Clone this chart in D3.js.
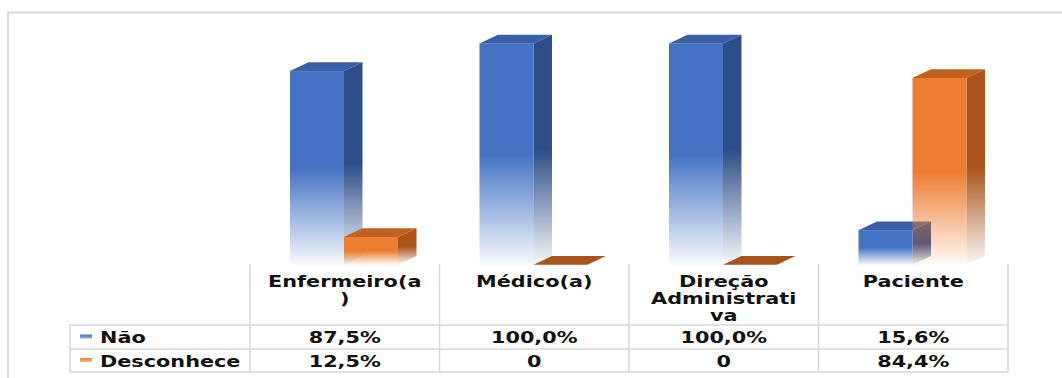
<!DOCTYPE html>
<html>
<head>
<meta charset="utf-8">
<script src="https://cdn.jsdelivr.net/npm/d3@7/dist/d3.min.js"></script>
<style>
  html, body { margin: 0; padding: 0; background: #fff; }
  svg { display: block; }
  text { font-family: "DejaVu Sans", Verdana, sans-serif; font-weight: bold; fill: #111; }
</style>
</head>
<body>
<svg id="chart" width="1062" height="378"></svg>
<script>
// Categories (full names) and their wrapped header lines in the data table
const categories = ["Enfermeiro(a)", "Médico(a)", "Direção Administrativa", "Paciente"];
const categoryLines = [["Enfermeiro(a", ")"], ["Médico(a)"], ["Direção", "Administrati", "va"], ["Paciente"]];

// Series
const seriesNames = ["Não", "Desconhece"];
const naoValues = [87.5, 100.0, 100.0, 15.6];
const desconheceValues = [12.5, 0, 0, 84.4];

// Table cell labels
const naoLabels = ["87,5%", "100,0%", "100,0%", "15,6%"];
const desconheceLabels = ["12,5%", "0", "0", "84,4%"];

const seriesValues = [naoValues, desconheceValues];
const seriesLabels = [naoLabels, desconheceLabels];

const palette = [
  { front: "#4472C4", side: "#2C4D87", top: "#3A5FA6" },
  { front: "#ED7D31", side: "#A9541B", top: "#C0621F" }
];

const svg = d3.select("#chart");
const W = 1062, H = 378;

// Layout
const tableLeft = 250, tableRight = 1008;
const legendLeft = 70;
const baseY = 264.7;
const headerTop = 264, row1Top = 325, row2Top = 349, tableBottom = 372;
const depthX = 18.5, depthY = -8.7;
const textScale = 1.3;

const x = d3.scaleBand().domain(categories).range([tableLeft, tableRight]).padding(0);
const bw = x.bandwidth();
const x1 = d3.scaleBand().domain(seriesNames).range([bw * 0.211, bw * 0.781]).padding(0);
const y = d3.scaleLinear().domain([0, 100]).range([baseY, 43.4]);

// Outer frame
svg.append("rect")
  .attr("x", 8).attr("y", 12.5)
  .attr("width", W + 10).attr("height", H)
  .attr("fill", "none").attr("stroke", "#d9d9d9").attr("stroke-width", 2);

// Gradients: solid on the upper half, fading out toward the floor
const defs = svg.append("defs");
palette.forEach((p, i) => {
  [["front", p.front], ["side", p.side]].forEach(([face, col]) => {
    const g = defs.append("linearGradient")
      .attr("id", `g-${i}-${face}`)
      .attr("x1", 0).attr("y1", 0).attr("x2", 0).attr("y2", 1);
    g.append("stop").attr("offset", "0%").attr("stop-color", col).attr("stop-opacity", 1);
    g.append("stop").attr("offset", "50%").attr("stop-color", col).attr("stop-opacity", 1);
    g.append("stop").attr("offset", "100%").attr("stop-color", col).attr("stop-opacity", 0.04);
  });
  const sw = defs.append("linearGradient")
    .attr("id", `g-${i}-swatch`)
    .attr("x1", 0).attr("y1", 0).attr("x2", 0).attr("y2", 1);
  sw.append("stop").attr("offset", "0%").attr("stop-color", p.front).attr("stop-opacity", 1);
  sw.append("stop").attr("offset", "100%").attr("stop-color", p.front).attr("stop-opacity", 0.55);
});

// 3D bars
const bars = svg.append("g").attr("class", "bars");
categories.forEach((cat, ci) => {
  seriesNames.forEach((s, si) => {
    const v = seriesValues[si][ci];
    const x0 = x(cat) + x1(s);
    const w = x1.bandwidth();
    const yt = y(v);
    const yb = y(0);
    const g = bars.append("g");
    if (yb - yt > 0.5) {
      // side face
      g.append("path")
        .attr("d", `M${x0 + w},${yt} L${x0 + w + depthX},${yt + depthY} L${x0 + w + depthX},${yb + depthY} L${x0 + w},${yb} Z`)
        .attr("fill", `url(#g-${si}-side)`);
      // front face
      g.append("rect")
        .attr("x", x0).attr("y", yt)
        .attr("width", w).attr("height", yb - yt)
        .attr("fill", `url(#g-${si}-front)`);
    }
    // top face
    g.append("path")
      .attr("d", `M${x0},${yt} L${x0 + depthX},${yt + depthY} L${x0 + w + depthX},${yt + depthY} L${x0 + w},${yt} Z`)
      .attr("fill", v > 0 ? palette[si].top : palette[si].side);
  });
});

// Data table grid
const grid = svg.append("g").attr("stroke", "#d9d9d9").attr("stroke-width", 1.6).attr("fill", "none");
const colEdges = categories.map(c => x(c)).concat([tableRight]);
colEdges.forEach(cx => {
  grid.append("line").attr("x1", cx).attr("x2", cx).attr("y1", headerTop).attr("y2", tableBottom);
});
grid.append("line").attr("x1", legendLeft).attr("x2", legendLeft).attr("y1", row1Top).attr("y2", tableBottom);
[row1Top, row2Top, tableBottom].forEach(ry => {
  grid.append("line").attr("x1", legendLeft).attr("x2", tableRight).attr("y1", ry).attr("y2", ry);
});

function label(parent, tx, ty, str, anchor) {
  parent.append("text")
    .attr("transform", `translate(${tx},${ty}) scale(${textScale},1)`)
    .attr("text-anchor", anchor || "middle")
    .attr("font-size", 16)
    .text(str);
}

const texts = svg.append("g");
// Header row
categories.forEach((cat, ci) => {
  const cx = x(cat) + bw / 2;
  categoryLines[ci].forEach((ln, li) => {
    label(texts, cx, 286.5 + li * 17.2, ln);
  });
});

// Series rows
const rowBase = [343, 366.5];
seriesNames.forEach((s, si) => {
  texts.append("rect")
    .attr("x", 80).attr("y", rowBase[si] - 8.5)
    .attr("width", 12).attr("height", 4)
    .attr("fill", `url(#g-${si}-swatch)`);
  label(texts, 100, rowBase[si], s, "start");
  categories.forEach((cat, ci) => {
    label(texts, x(cat) + bw / 2, rowBase[si], seriesLabels[si][ci]);
  });
});
</script>
</body>
</html>
